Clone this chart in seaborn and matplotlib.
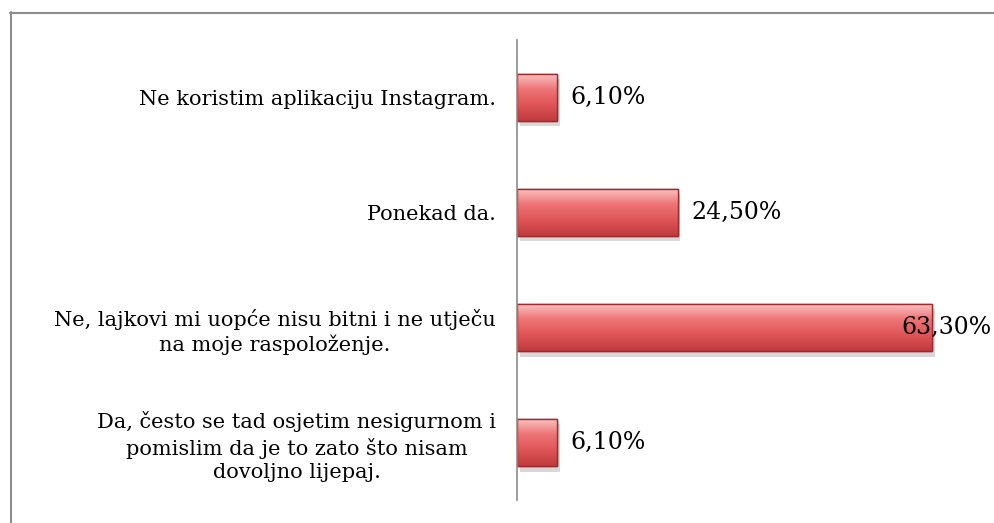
import numpy as np
import pandas as pd
import matplotlib.pyplot as plt
import seaborn as sns
from matplotlib.lines import Line2D
from matplotlib import patheffects as pe

categories = [
    "Ne koristim aplikaciju Instagram.",
    "Ponekad da.",
    "Ne, lajkovi mi uopće nisu bitni i ne utječu\nna moje raspoloženje.",
    "Da, često se tad osjetim nesigurnom i\npomislim da je to zato što nisam\ndovoljno lijepaj.",
]
values = [6.1, 24.5, 63.3, 6.1]

df = pd.DataFrame({"odgovor": categories, "postotak": values})

sns.set_style("white")
plt.rcParams['font.family'] = ['DejaVu Serif']

fig = plt.figure(figsize=(9.94, 5.23), dpi=100)
ax = fig.add_axes([0.520, 0.044, 0.462, 0.880])

sns.barplot(data=df, x="postotak", y="odgovor", orient="h", width=0.41,
            color="#e35b5d", edgecolor="#9e2a2c", linewidth=1, ax=ax)

# gradijent i sjena na stupcima
grad = np.linspace(0, 1, 64).reshape(-1, 1)
cmap = sns.blend_palette(["#fbc4c4", "#ee7476", "#df5557", "#c03a3d"], as_cmap=True)
for p in list(ax.patches):
    x0, y0 = p.get_x(), p.get_y()
    w, h = p.get_width(), p.get_height()
    p.set_path_effects([pe.SimplePatchShadow(offset=(2, -4), shadow_rgbFace="#aaaaaa", alpha=0.45),
                        pe.Normal()])
    im = ax.imshow(grad, extent=(x0, x0 + w, y0 + h, y0), cmap=cmap, aspect="auto",
                   interpolation="bicubic", zorder=p.get_zorder() + 0.1)
    im.set_clip_path(p)
    edge = plt.Rectangle((x0, y0), w, h, fill=False, edgecolor="#9e2a2c", linewidth=1,
                         zorder=p.get_zorder() + 0.2)
    ax.add_patch(edge)
ax.set_xlim(0, 70)
ax.set_ylim(3.5, -0.5)

for i, v in enumerate(values):
    txt = f"{v:.2f}".replace(".", ",") + "%"
    off = 10 if v < 50 else -22
    ax.annotate(txt, xy=(v, i), xytext=(off, 0), textcoords="offset points",
                ha="left", va="center", fontsize=17, color="black", annotation_clip=False)

ax.set_xlabel("")
ax.set_ylabel("")
ax.set_xticks([])
ax.tick_params(axis="y", length=0, pad=15, labelsize=15, labelcolor="black")
for lbl in ax.get_yticklabels():
    lbl.set_multialignment("center")
    lbl.set_linespacing(1.32)

for s in ["top", "right", "bottom"]:
    ax.spines[s].set_visible(False)
ax.spines["left"].set_color("#8c8c8c")
ax.spines["left"].set_linewidth(1.2)

# okvir oko grafikona
fig.add_artist(Line2D([10 / 994, 994 / 994], [1 - 12.5 / 523] * 2, color="#8c8c8c", lw=1.5))
fig.add_artist(Line2D([10.5 / 994] * 2, [1 - 12 / 523, 0], color="#8c8c8c", lw=1.5))

fig.savefig("out.png", dpi=100)
